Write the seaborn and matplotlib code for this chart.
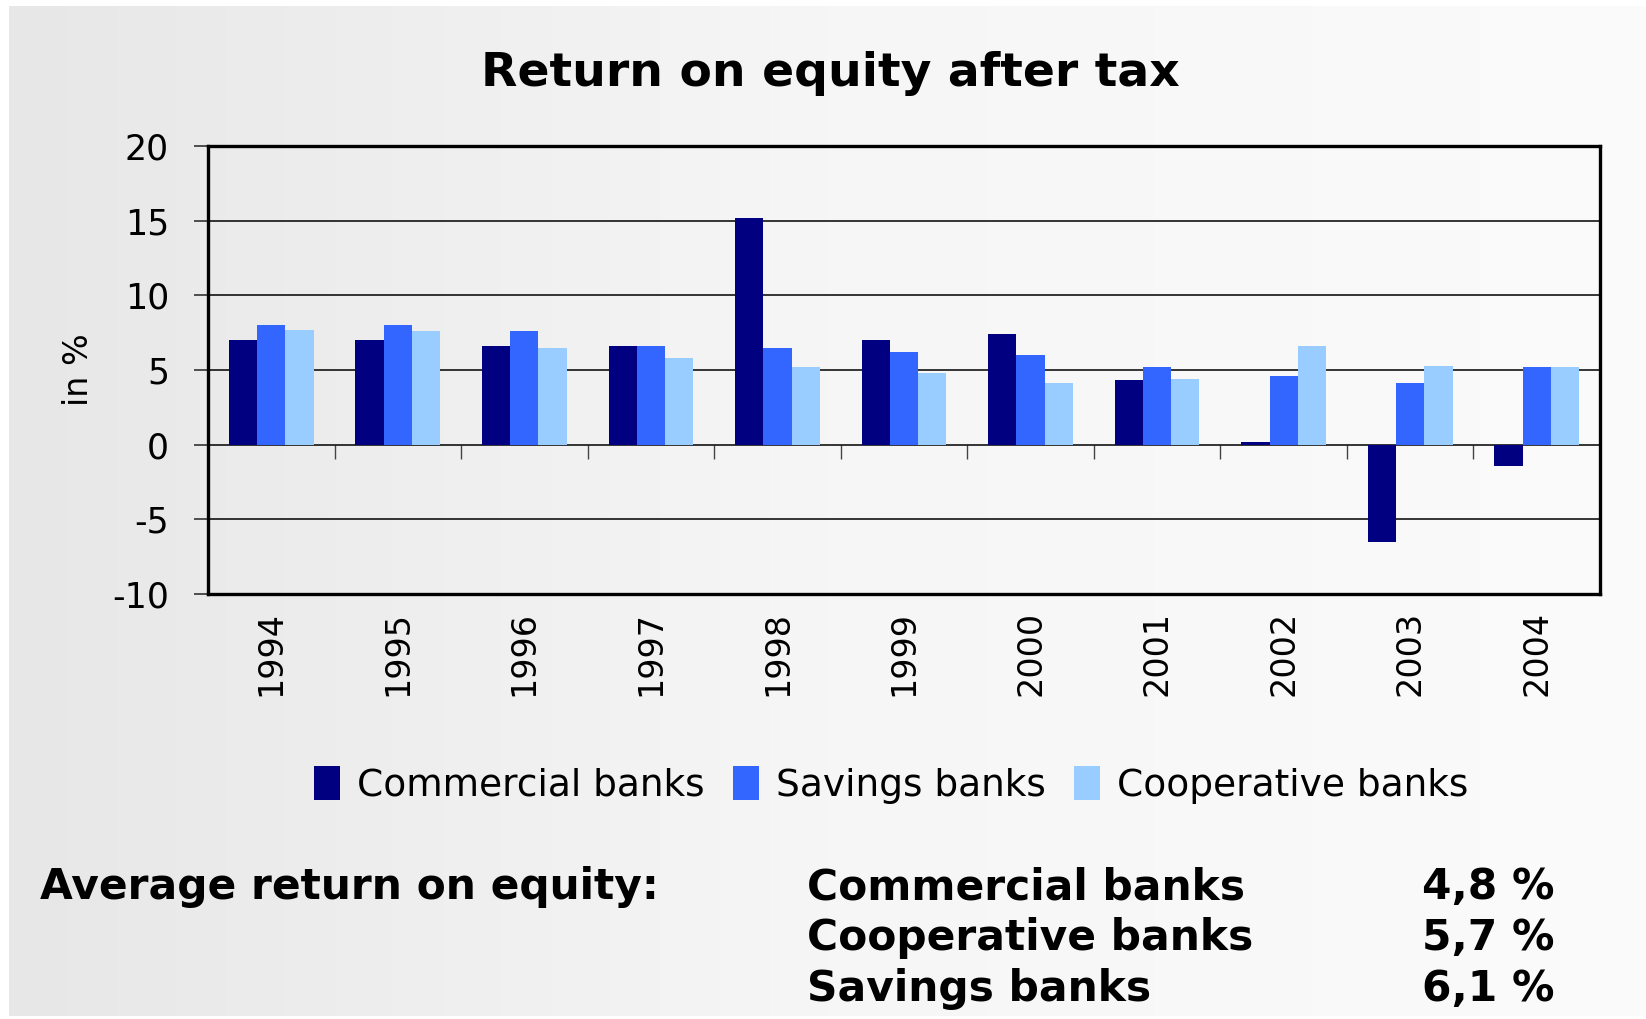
import numpy as np
import pandas as pd
import matplotlib
matplotlib.use("Agg")
import matplotlib.pyplot as plt
import seaborn as sns
from matplotlib.colors import LinearSegmentedColormap

# Return on equity after tax, in %
years = ["1994", "1995", "1996", "1997", "1998", "1999", "2000", "2001", "2002", "2003", "2004"]
commercial = [7.0, 7.0, 6.6, 6.6, 15.2, 7.0, 7.4, 4.3, 0.2, -6.5, -1.4]
savings = [8.0, 8.0, 7.6, 6.6, 6.5, 6.2, 6.0, 5.2, 4.6, 4.1, 5.2]
cooperative = [7.7, 7.6, 6.5, 5.8, 5.2, 4.8, 4.1, 4.4, 6.6, 5.3, 5.2]

series_names = ["Commercial banks", "Savings banks", "Cooperative banks"]
series_colors = ["#000080", "#3366FF", "#99CCFF"]

avg_labels = ["Commercial banks", "Cooperative banks", "Savings banks"]
avg_values = ["4,8 %", "5,7 %", "6,1 %"]

yticks = [-10, -5, 0, 5, 10, 15, 20]

df = pd.DataFrame({
    "year": years * 3,
    "value": commercial + savings + cooperative,
    "type": [series_names[0]] * len(years) + [series_names[1]] * len(years) + [series_names[2]] * len(years),
})

sns.set_theme(style="white")
plt.rcParams["font.family"] = ["DejaVu Sans"]
plt.rcParams["text.color"] = "black"
plt.rcParams["axes.labelcolor"] = "black"
plt.rcParams["xtick.color"] = "black"
plt.rcParams["ytick.color"] = "black"

fig = plt.figure(figsize=(16.46, 10.19), dpi=100, facecolor="white")

# soft horizontal gray gradient behind everything
bg = fig.add_axes([9 / 1646, 3 / 1019, 1 - 9 / 1646, 1 - 9 / 1019], zorder=-10)
grad = np.linspace(0, 1, 512).reshape(1, -1)
cmap = LinearSegmentedColormap.from_list("bg", ["#e7e7e7", "#f6f6f6", "#fbfbfb"])
bg.imshow(grad, aspect="auto", cmap=cmap, extent=[0, 1, 0, 1])
bg.set_axis_off()

ax = fig.add_axes([208 / 1646, 1 - 594 / 1019, (1600 - 208) / 1646, (594 - 146) / 1019])
ax.set_facecolor("none")

sns.barplot(data=df, x="year", y="value", hue="type", hue_order=series_names,
            palette=series_colors, saturation=1, width=0.67, ax=ax,
            legend=False, linewidth=0, edgecolor="none", zorder=3)

ax.set_ylim(-10, 20)
ax.set_xlim(-0.5, len(years) - 0.5)
ax.set_yticks(yticks)
ax.set_yticklabels([str(v) for v in yticks], fontsize=25)
ax.set_xticks(range(len(years)))
ax.set_xticklabels(years, rotation=90, fontsize=24)
ax.tick_params(axis="x", length=0, pad=12)
ax.tick_params(axis="y", direction="out", length=10, width=1.2, color="#333333", pad=18, left=True)
ax.set_xlabel("")
ax.set_ylabel("in %", fontsize=24)
ax.yaxis.set_label_coords(-0.081, 0.5)

ax.grid(axis="y", color="black", linewidth=1.1, zorder=1)
ax.set_axisbelow(True)
for s in ax.spines.values():
    s.set_visible(True)
    s.set_color("black")
    s.set_linewidth(2.4)

# category separators hanging below the zero line
sec = ax.secondary_xaxis(1 / 3)
sec.set_xticks([i + 0.5 for i in range(len(years) - 1)])
sec.set_xticklabels([])
sec.tick_params(direction="out", length=10, width=1.0, color="#444444")
sec.spines["bottom"].set_visible(False)
sec.spines["top"].set_visible(False)

fig.text(830 / 1646, 1 - 74 / 1019, "Return on equity after tax", ha="center", va="center",
         fontsize=34, fontweight="bold", color="black")

handles = [plt.Rectangle((0, 0), 1, 1, facecolor=c, edgecolor="none") for c in series_colors]
fig.legend(handles, series_names, loc="center", bbox_to_anchor=(891 / 1646, 1 - 785 / 1019),
           ncol=3, frameon=False, fontsize=27, handlelength=0.7, handleheight=1.0,
           handletextpad=0.45, columnspacing=0.75)

fig.text(40 / 1646, 1 - 887 / 1019, "Average return on equity:", ha="left", va="center",
         fontsize=30.5, fontweight="bold")
for i, (lab, val) in enumerate(zip(avg_labels, avg_values)):
    y = 1 - (887 + i * 51) / 1019
    fig.text(807 / 1646, y, lab, ha="left", va="center", fontsize=30.5, fontweight="bold")
    fig.text(1554 / 1646, y, val, ha="right", va="center", fontsize=30.5, fontweight="bold")

fig.savefig("out.png", dpi=100, facecolor="white")
